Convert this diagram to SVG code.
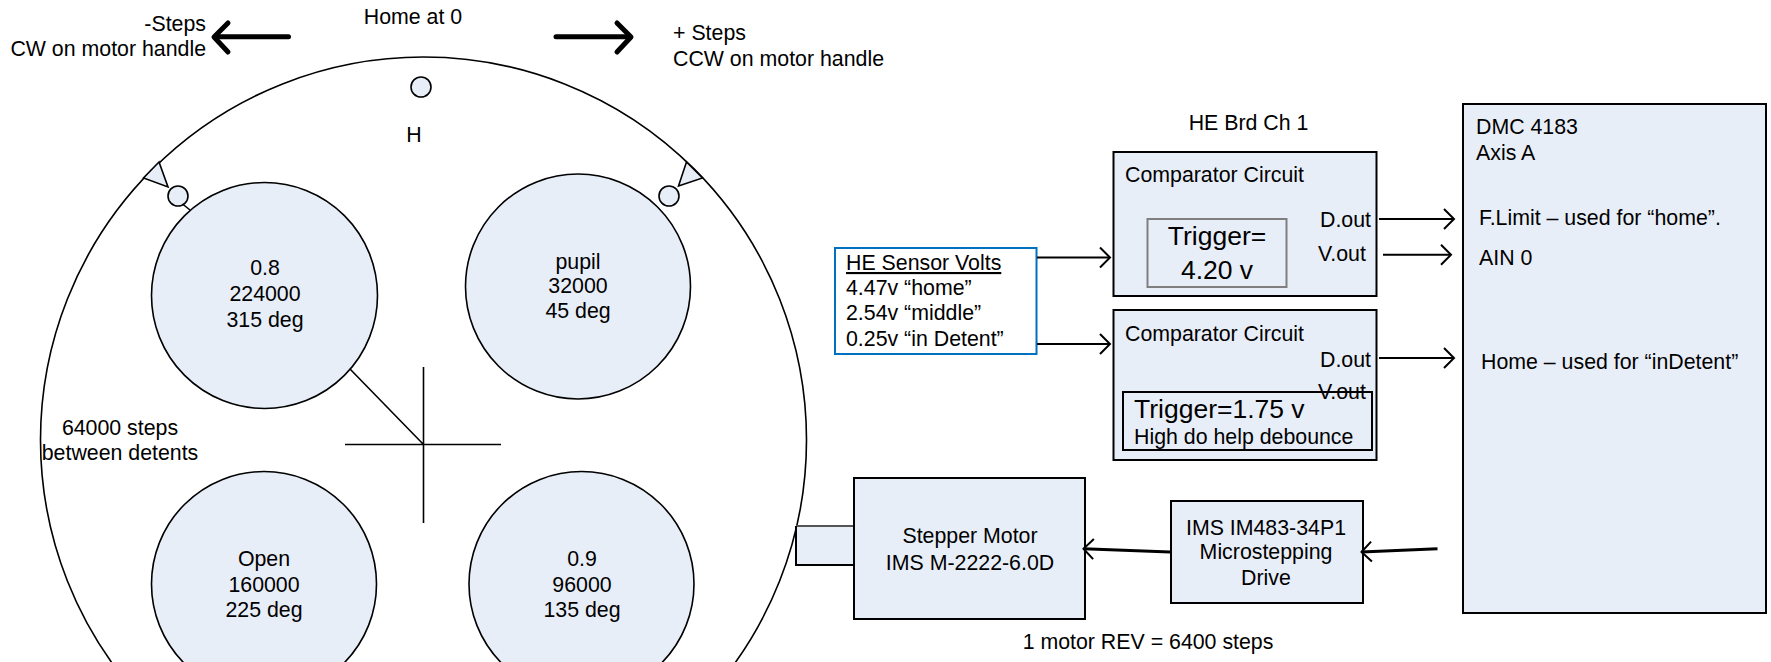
<svg xmlns="http://www.w3.org/2000/svg" width="1771" height="662" viewBox="0 0 1771 662">
<defs>
<marker id="open" markerUnits="userSpaceOnUse" markerWidth="16" markerHeight="24" refX="13" refY="12" orient="auto" overflow="visible"><path d="M3 2 L13 12 L3 22" fill="none" stroke="#000" stroke-width="2"/></marker>
<style>
text{font-family:"Liberation Sans",Arial,sans-serif;font-size:21.33px;fill:#000}
.m{text-anchor:middle}
.e{text-anchor:end}
.b{fill:#e8eef8;stroke:#000;stroke-width:2}
.d{fill:#e8eef8;stroke:#000;stroke-width:1.6}
.w{fill:#fff;stroke:#000;stroke-width:1.6}
.c{fill:none;stroke:#000;stroke-width:1.6}
</style>
</defs>
<rect width="1771" height="662" fill="#fff"/>
<g id="wheel">
<circle class="w" cx="423.5" cy="440" r="383"/>
<path class="c" d="M345 444.500H501M423.500 367V523M350 369L423.500 444.500"/>
<text class="m" x="413" y="24">Home at 0</text>
<text class="m" x="414" y="142">H</text>
<text class="m" x="120" y="435">64000 steps</text>
<text class="m" x="120" y="460">between detents</text>
</g>
<g id="home-marker"><circle class="d" cx="421" cy="87" r="10"/></g>
<g id="detent-left">
<path class="d" d="M159 162L143.500 178L168 187Z"/>
<path class="c" d="M182.500 204L190 210"/>
<circle class="d" cx="178" cy="196" r="10"/>
</g>
<g id="detent-right">
<path class="d" d="M686.500 162L702.500 178L678.500 186Z"/>
<circle class="d" cx="669" cy="196" r="10"/>
</g>
<g id="filter-08"><circle class="d" cx="264.500" cy="295.500" r="113"/>
<text class="m" x="265" y="275">0.8</text><text class="m" x="265" y="301">224000</text><text class="m" x="265" y="327">315 deg</text></g>
<g id="filter-pupil"><circle class="d" cx="578" cy="286.500" r="112.500"/>
<text class="m" x="578" y="269">pupil</text><text class="m" x="578" y="293">32000</text><text class="m" x="578" y="318">45 deg</text></g>
<g id="filter-open"><circle class="d" cx="264" cy="584" r="112.500"/>
<text class="m" x="264" y="566">Open</text><text class="m" x="264" y="592">160000</text><text class="m" x="264" y="617">225 deg</text></g>
<g id="filter-09"><circle class="d" cx="581.500" cy="584" r="112.500"/>
<text class="m" x="582" y="566">0.9</text><text class="m" x="582" y="592">96000</text><text class="m" x="582" y="617">135 deg</text></g>
<g id="labels">
<text class="e" x="206" y="31">-Steps</text>
<text class="e" x="206" y="56">CW on motor handle</text>
<text x="673" y="40">+ Steps</text>
<text x="673" y="66">CCW on motor handle</text>
<text class="m" x="1248.500" y="130">HE Brd Ch 1</text>
<text class="m" x="1148" y="649">1 motor REV = 6400 steps</text>
</g>
<g id="he-sensor">
<rect x="835" y="248" width="201.500" height="106" fill="#fff" stroke="#0070c0" stroke-width="2"/>
<text x="846" y="270" text-decoration="underline">HE Sensor Volts</text>
<text x="846" y="295">4.47v “home”</text>
<text x="846" y="320">2.54v “middle”</text>
<text x="846" y="346">0.25v “in Detent”</text>
</g>
<g id="comparator-1">
<rect class="b" x="1113.500" y="152" width="263" height="144"/>
<text x="1125" y="182">Comparator Circuit</text>
<text x="1320" y="227">D.out</text>
<text x="1318" y="261">V.out</text>
<rect x="1147.500" y="219" width="139" height="68" fill="#e8eef8" stroke="#7f7f7f" stroke-width="2"/>
<text class="m" x="1217" y="245" style="font-size:26.5px">Trigger=</text>
<text class="m" x="1217" y="279" style="font-size:26.5px">4.20 v</text>
</g>
<g id="comparator-2">
<rect class="b" x="1113.500" y="310" width="263" height="150"/>
<text x="1125" y="341">Comparator Circuit</text>
<text x="1320" y="367">D.out</text>
<rect x="1123" y="392" width="249" height="58" fill="none" stroke="#000" stroke-width="2"/>
<text x="1318" y="399">V.out</text>
<text x="1134" y="418" style="font-size:26.5px">Trigger=1.75 v</text>
<text x="1134" y="444">High do help debounce</text>
</g>
<g id="dmc">
<rect class="b" x="1463" y="104" width="303" height="509"/>
<text x="1476" y="134">DMC 4183</text>
<text x="1476" y="160">Axis A</text>
<text x="1479" y="225">F.Limit – used for “home”.</text>
<text x="1479" y="265">AIN 0</text>
<text x="1481" y="369">Home – used for “inDetent”</text>
</g>
<g id="motor-shaft"><path d="M854 526H796V565H854" fill="#e8eef8" stroke="none"/><path d="M854 526H796" fill="none" stroke="#555" stroke-width="2"/><path d="M796 526V565H854" fill="none" stroke="#000" stroke-width="2"/></g>
<g id="motor">
<rect class="b" x="854" y="478" width="231" height="141"/>
<text class="m" x="970" y="543">Stepper Motor</text>
<text class="m" x="970" y="570">IMS M-2222-6.0D</text>
</g>
<g id="drive">
<rect class="b" x="1171" y="501" width="192" height="102"/>
<text class="m" x="1266" y="535">IMS IM483-34P1</text>
<text class="m" x="1266" y="559">Microstepping</text>
<text class="m" x="1266" y="585">Drive</text>
</g>
<g id="connectors" fill="none" stroke="#000" stroke-width="2">
<path d="M1037 257.500H1110" marker-end="url(#open)"/>
<path d="M1037 344H1110" marker-end="url(#open)"/>
<path d="M1379 219H1454" marker-end="url(#open)"/>
<path d="M1383 254.700H1451" marker-end="url(#open)"/>
<path d="M1379 358H1454" marker-end="url(#open)"/>
<path d="M1170 552L1083.500 548.700" stroke-width="3" marker-end="url(#open)"/>
<path d="M1437.500 548.700L1361.500 552" stroke-width="3" marker-end="url(#open)"/>
<path d="M288.500 36.700H216" stroke-width="5" stroke-linecap="round"/>
<path d="M228 23L214 37L228 52" stroke-width="5" stroke-linecap="round" stroke-linejoin="round"/>
<path d="M556 36.700H630" stroke-width="5" stroke-linecap="round"/>
<path d="M617 23L631 37L617 52" stroke-width="5" stroke-linecap="round" stroke-linejoin="round"/>
</g>
</svg>
